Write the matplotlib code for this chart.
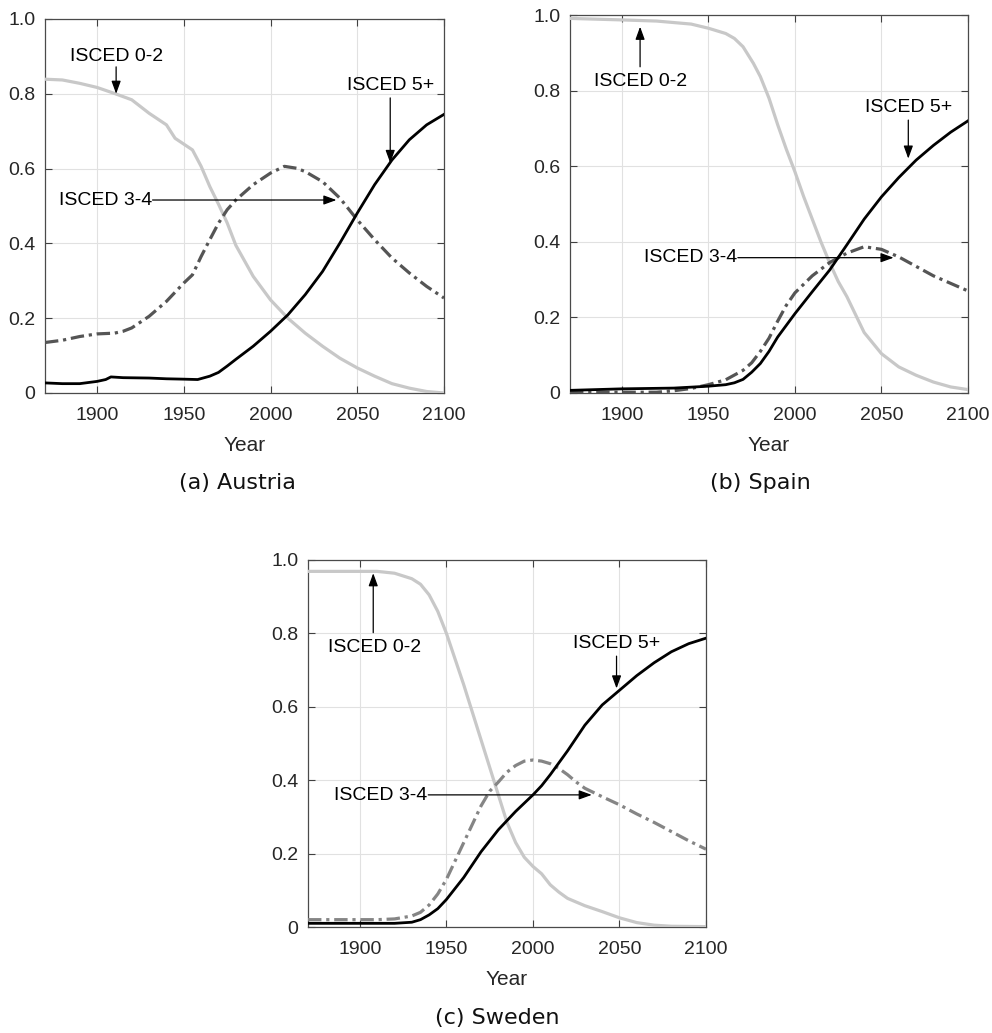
import matplotlib
matplotlib.use("Agg")
import matplotlib.pyplot as plt

# ---------------- data: population shares by education level ----------------
# Austria
at_years_low = [1870, 1880, 1890, 1900, 1910, 1920, 1930, 1940, 1945, 1955, 1960, 1965,
                1970, 1975, 1980, 1990, 2000, 2010, 2020, 2030, 2040, 2050, 2060, 2070,
                2080, 2090, 2100]
at_low = [0.839, 0.837, 0.828, 0.817, 0.801, 0.784, 0.748, 0.717, 0.681, 0.650, 0.606, 0.552,
          0.505, 0.455, 0.395, 0.312, 0.249, 0.200, 0.160, 0.125, 0.093, 0.067, 0.045, 0.025,
          0.013, 0.004, 0.000]

at_years_mid = [1870, 1880, 1890, 1900, 1910, 1915, 1920, 1930, 1940, 1950, 1955, 1960, 1965,
                1970, 1975, 1980, 1990, 2000, 2008, 2015, 2020, 2030, 2040, 2050, 2060, 2070,
                2080, 2090, 2100]
at_mid = [0.135, 0.141, 0.151, 0.158, 0.160, 0.165, 0.174, 0.205, 0.245, 0.294, 0.316, 0.365,
          0.410, 0.454, 0.490, 0.516, 0.557, 0.588, 0.606, 0.601, 0.592, 0.565, 0.521, 0.463,
          0.410, 0.361, 0.321, 0.285, 0.254]

at_years_high = [1870, 1880, 1890, 1900, 1905, 1908, 1915, 1930, 1940, 1950, 1958, 1965, 1970,
                 1975, 1980, 1990, 2000, 2010, 2020, 2030, 2040, 2050, 2060, 2070, 2080, 2090,
                 2100]
at_high = [0.027, 0.025, 0.025, 0.031, 0.036, 0.043, 0.041, 0.040, 0.038, 0.037, 0.036, 0.045,
           0.055, 0.072, 0.090, 0.125, 0.165, 0.209, 0.263, 0.325, 0.401, 0.481, 0.557, 0.623,
           0.677, 0.717, 0.745]

# Spain
es_years_low = [1870, 1900, 1920, 1935, 1940, 1950, 1960, 1965, 1970, 1976, 1980, 1985, 1990,
                1995, 2000, 2005, 2010, 2015, 2020, 2025, 2030, 2040, 2050, 2060, 2070, 2080,
                2090, 2100]
es_low = [0.991, 0.987, 0.984, 0.978, 0.976, 0.965, 0.951, 0.938, 0.916, 0.872, 0.837, 0.780,
          0.710, 0.645, 0.585, 0.520, 0.460, 0.400, 0.345, 0.295, 0.255, 0.160, 0.104, 0.069,
          0.047, 0.029, 0.016, 0.009]

es_years_mid = [1870, 1900, 1920, 1930, 1940, 1950, 1960, 1970, 1975, 1980, 1985, 1990, 1995,
                2000, 2010, 2020, 2030, 2040, 2050, 2060, 2070, 2080, 2090, 2100]
es_mid = [0.002, 0.002, 0.002, 0.006, 0.012, 0.022, 0.035, 0.060, 0.080, 0.110, 0.145, 0.190,
          0.232, 0.265, 0.310, 0.345, 0.370, 0.387, 0.380, 0.360, 0.335, 0.310, 0.290, 0.270]

es_years_high = [1870, 1900, 1930, 1950, 1960, 1965, 1970, 1975, 1980, 1985, 1990, 2000, 2010,
                 2020, 2030, 2040, 2050, 2060, 2070, 2080, 2090, 2100]
es_high = [0.007, 0.011, 0.013, 0.018, 0.022, 0.027, 0.036, 0.055, 0.078, 0.110, 0.148, 0.210,
           0.268, 0.325, 0.392, 0.460, 0.519, 0.570, 0.616, 0.655, 0.690, 0.720]

# Sweden
se_years_low = [1870, 1910, 1920, 1930, 1935, 1940, 1945, 1950, 1955, 1960, 1965, 1970, 1975,
                1980, 1985, 1990, 1995, 2000, 2005, 2010, 2015, 2020, 2030, 2040, 2050, 2060,
                2070, 2080, 2100]
se_low = [0.969, 0.969, 0.964, 0.949, 0.934, 0.905, 0.860, 0.800, 0.730, 0.660, 0.585, 0.510,
          0.435, 0.360, 0.285, 0.230, 0.190, 0.165, 0.145, 0.115, 0.095, 0.078, 0.058, 0.042,
          0.025, 0.012, 0.005, 0.002, 0.001]

se_years_mid = [1870, 1910, 1920, 1930, 1935, 1940, 1945, 1950, 1955, 1960, 1965, 1970, 1975,
                1980, 1985, 1990, 1995, 2000, 2005, 2010, 2015, 2020, 2025, 2030, 2040, 2050,
                2060, 2070, 2080, 2090, 2100]
se_mid = [0.020, 0.020, 0.022, 0.030, 0.040, 0.060, 0.090, 0.130, 0.180, 0.230, 0.280, 0.330,
          0.370, 0.395, 0.422, 0.440, 0.452, 0.455, 0.452, 0.445, 0.432, 0.415, 0.395, 0.378,
          0.355, 0.333, 0.308, 0.285, 0.260, 0.235, 0.212]

se_years_high = [1870, 1920, 1930, 1935, 1940, 1945, 1950, 1955, 1960, 1965, 1970, 1975, 1980,
                 1990, 2000, 2005, 2010, 2020, 2030, 2040, 2050, 2060, 2070, 2080, 2090, 2100]
se_high = [0.010, 0.010, 0.013, 0.020, 0.033, 0.050, 0.075, 0.105, 0.135, 0.170, 0.205, 0.235,
           0.265, 0.315, 0.360, 0.385, 0.415, 0.480, 0.550, 0.605, 0.645, 0.685, 0.720, 0.750,
           0.772, 0.787]

# Axis ticks
x_ticks = [1900, 1950, 2000, 2050, 2100]
y_ticks = [0, 0.2, 0.4, 0.6, 0.8, 1.0]
y_tick_labels = ["0", "0.2", "0.4", "0.6", "0.8", "1.0"]

labels = ["ISCED 0-2", "ISCED 3-4", "ISCED 5+"]

# Annotation geometry per panel: (label position, arrow tail, arrow head)
at_notes = [((1911, 0.901), (1911, 0.872), (1911, 0.800)),
            ((1915, 0.516), (1932, 0.516), (2038, 0.516)),
            ((2069.5, 0.821), (2069, 0.789), (2069, 0.615))]
es_notes = [((1910.5, 0.823), (1910.5, 0.863), (1910.5, 0.969)),
            ((1949, 0.358), (1967, 0.358), (2057, 0.358)),
            ((2065.5, 0.755), (2065.5, 0.722), (2065.5, 0.620))]
se_notes = [((1908.5, 0.762), (1907.7, 0.802), (1907.7, 0.964)),
            ((1920.5, 0.358), (1939.5, 0.360), (2034, 0.360)),
            ((2048.3, 0.772), (2048.3, 0.738), (2048.3, 0.650))]

# ---------------- styling ----------------
SANS = ["Liberation Sans", "DejaVu Sans"]
TXT = "#262626"
C_LOW = "#c8c8c8"
C_HIGH = "#000000"

W, H = 992, 1033
fig = plt.figure(figsize=(W / 100, H / 100), dpi=100)


def px_axes(left, top, right, bottom):
    return fig.add_axes([left / W, 1 - bottom / H, (right - left) / W, (bottom - top) / H])


def draw_panel(ax, low, mid, high, mid_color, notes):
    ax.plot(low[0], low[1], color=C_LOW, lw=2.3, solid_capstyle="round",
            solid_joinstyle="round", zorder=3)
    ax.plot(mid[0], mid[1], color=mid_color, lw=2.3, dashes=(4.2, 1.5, 1.0, 1.5), zorder=4)
    ax.plot(high[0], high[1], color=C_HIGH, lw=2.0, solid_joinstyle="round", zorder=5)

    ax.set_xlim(1870, 2100)
    ax.set_ylim(0, 1.0)
    ax.set_xticks(x_ticks)
    ax.set_yticks(y_ticks)
    ax.set_yticklabels(y_tick_labels)
    ax.grid(True, color="#e1e1e1", lw=0.8)
    ax.set_axisbelow(True)
    ax.tick_params(direction="in", length=5, width=0.8, top=True, right=True,
                   colors="#404040", labelcolor=TXT, labelsize=14)
    ax.tick_params(axis="x", pad=10)
    ax.tick_params(axis="y", pad=7)
    for lab in ax.get_xticklabels() + ax.get_yticklabels():
        lab.set_family(SANS)
    for sp in ax.spines.values():
        sp.set_color("#4a4a4a")
        sp.set_linewidth(0.9)
    ax.set_xlabel("Year", fontsize=15, color=TXT, family=SANS, labelpad=9)

    for name, (tpos, tail, head) in zip(labels, notes):
        ax.annotate("", xy=head, xytext=tail,
                    arrowprops=dict(arrowstyle="-|>,head_length=0.55,head_width=0.2",
                                    color="black", lw=0.9, shrinkA=0, shrinkB=0,
                                    mutation_scale=14),
                    zorder=6)
        ha = "center"
        if name == "ISCED 3-4":
            ha = "right"
            tpos = (tail[0] - 0.3, tpos[1])
        ax.text(tpos[0], tpos[1], name, ha=ha, va="center", fontsize=14,
                color="black", family=SANS, zorder=7)


ax_a = px_axes(45, 19, 444, 393)
draw_panel(ax_a, (at_years_low, at_low), (at_years_mid, at_mid), (at_years_high, at_high),
           "#555555", at_notes)

ax_b = px_axes(570, 15, 968, 393)
draw_panel(ax_b, (es_years_low, es_low), (es_years_mid, es_mid), (es_years_high, es_high),
           "#555555", es_notes)

ax_c = px_axes(308, 560, 706, 927)
draw_panel(ax_c, (se_years_low, se_low), (se_years_mid, se_mid), (se_years_high, se_high),
           "#858585", se_notes)

# Sub-figure captions
captions = [("(a) Austria", 237, 483), ("(b) Spain", 760, 483), ("(c) Sweden", 497, 1018)]
for text, cx, cy in captions:
    fig.text(cx / W, 1 - cy / H, text, ha="center", va="center", fontsize=16,
             color="#111111", family="DejaVu Sans")

fig.savefig("out.png", dpi=100)
